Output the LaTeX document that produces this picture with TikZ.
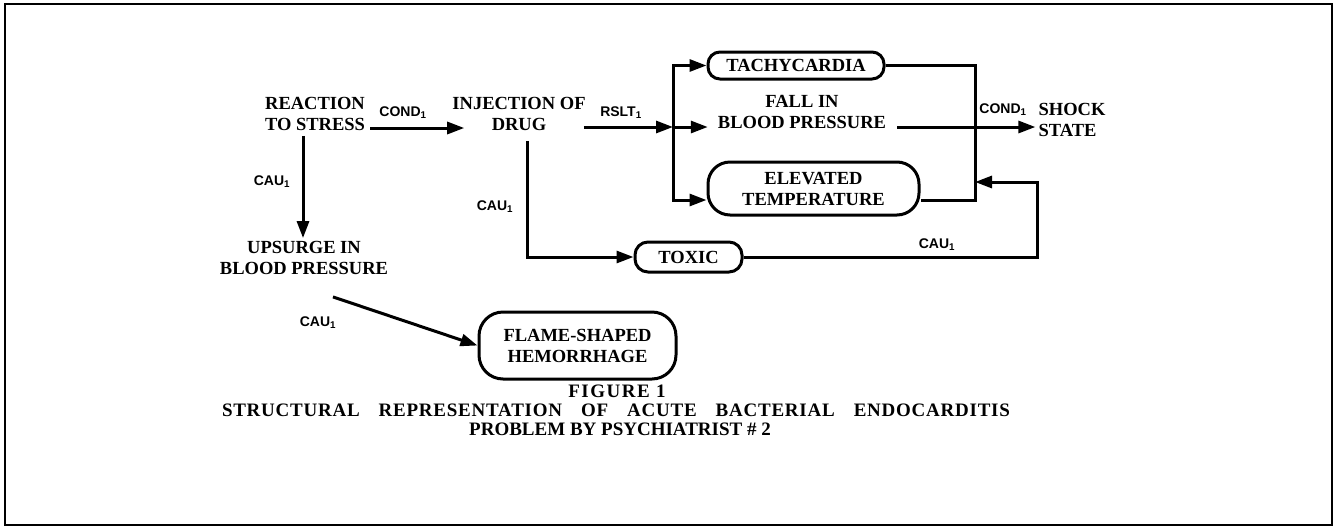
\documentclass[tikz,border=0pt]{standalone}
\usepackage{fontspec}
\setmainfont{Liberation Serif}
\newfontfamily\lblfont{Liberation Sans}
\newfontfamily\capA[LetterSpace=8]{Liberation Serif}
\newfontfamily\capB[LetterSpace=4]{Liberation Serif}
\usetikzlibrary{arrows.meta,calc}
\begin{document}
\begin{tikzpicture}[x=1pt,y=-1pt,
  txt/.style={inner sep=0pt,align=center,font=\fontsize{18.5}{21}\selectfont\bfseries},
  lbl/.style={inner sep=0pt,font=\lblfont\bfseries\fontsize{14}{14}\selectfont},
  captext/.style={inner sep=0pt,font=\fontsize{19}{19}\selectfont\bfseries},
  ln/.style={line width=3pt},
  arr/.style={ln,-{Triangle[length=17pt,width=12pt]}},
  pill/.style={draw,line width=3pt,inner sep=0pt,align=center,
    font=\fontsize{18.5}{21}\selectfont\bfseries},
]
\useasboundingbox (0,0) rectangle (1336,528);
\draw[line width=2pt] (5,4) rectangle (1332,525);

% text nodes
\node[txt] (reaction) at (315,114) {REACTION\\TO STRESS};
\node[txt] (injection) at (519,114) {INJECTION OF\\DRUG};
\node[txt] (fall) at (802,112) {FALL IN\\BLOOD PRESSURE};
\node[txt,align=left] (shock) at (1072,120) {SHOCK\\STATE};
\node[txt] (upsurge) at (304,258) {UPSURGE IN\\BLOOD PRESSURE};

% boxes
\node[pill,rounded corners=12pt,minimum width=176pt,minimum height=27pt] (tachy) at (796,65.5) {TACHYCARDIA};
\node[pill,rounded corners=22pt,minimum width=211pt,minimum height=53pt] (elevated) at (813.5,188.5) {ELEVATED\\TEMPERATURE};
\node[pill,rounded corners=13pt,minimum width=107pt,minimum height=30pt] (toxic) at (688.5,257) {TOXIC};
\node[pill,rounded corners=24pt,minimum width=197pt,minimum height=67pt] (flame) at (577.5,345.5) {FLAME-SHAPED\\HEMORRHAGE};

% helper coordinates
\coordinate (c1) at (0,128);
\coordinate (sm) at (673,127);
\coordinate (sb) at (673,200);
\coordinate (rb) at (975,200);
\coordinate (f1) at (1037,182);
\coordinate (f2) at (975,182);

% connectors
\draw[arr] ($(reaction.east|-c1)+(5,0)$) -- ($(injection.west|-c1)+(12,0)$);
\draw[arr] ($(injection.east|-sm)+(-2,0)$) -- (sm);
\draw[arr] (sm) |- (tachy.west);
\draw[arr] (sm) |- (elevated.west|-sb);
\draw[arr] (sm) -- ($(fall.west|-sm)+(-10,0)$);
\draw[ln] (tachy.east) -| (rb) -- (elevated.east|-rb);
\draw[arr] ($(fall.east|-sm)+(11,0)$) -- ($(shock.west|-sm)+(-3,0)$);
\draw[arr] (toxic.east) -| (f1) -- (f2);
\draw[arr] ($(injection.south)+(8,10)$) |- (toxic.west);
\draw[arr] ($(reaction.south)+(-12,5)$) -- ($(reaction.south|-upsurge.north)+(-12,-3)$);
\draw[arr] ($(upsurge.south)+(29,22)$) -- (flame.west);

% connector labels
\node[lbl] (l1) at (403,113) {COND\textsubscript{1}};
\node[lbl] (l2) at (621,113) {RSLT\textsubscript{1}};
\node[lbl] (l3) at (1003,110) {COND\textsubscript{1}};
\node[lbl] (l4) at (272,182) {CAU\textsubscript{1}};
\node[lbl] (l5) at (495,207) {CAU\textsubscript{1}};
\node[lbl] (l6) at (937,245) {CAU\textsubscript{1}};
\node[lbl] (l7) at (318,323) {CAU\textsubscript{1}};

% caption
\node[captext] (fig) at (617,391) {\capA FIGURE 1};
\node[captext] (cap2) at (616,410) {\makebox[788pt][s]{\capB STRUCTURAL REPRESENTATION OF ACUTE BACTERIAL ENDOCARDITIS}};
\node[captext] (cap3) at (620,429) {PROBLEM BY PSYCHIATRIST \# 2};
\end{tikzpicture}
\end{document}
